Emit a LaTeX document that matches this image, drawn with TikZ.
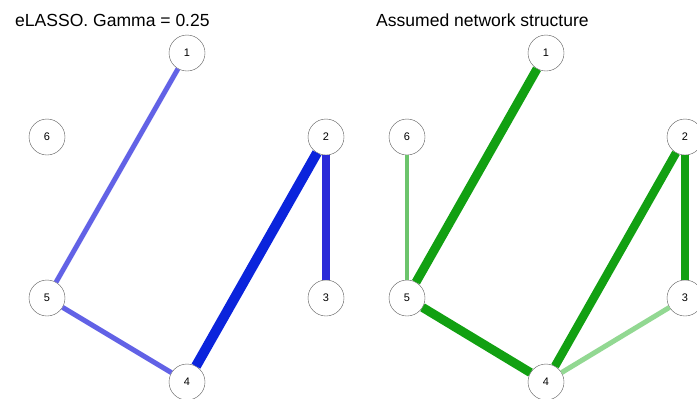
\documentclass[tikz,border=0pt]{standalone}
\usepackage{fontspec}
\setmainfont{Liberation Sans}
\usetikzlibrary{positioning}

\definecolor{blueLight}{HTML}{6262E6}
\definecolor{blueDark}{HTML}{0B24DC}
\definecolor{blueMid}{HTML}{2A2AD8}
\definecolor{greenDark}{HTML}{12A012}
\definecolor{greenMid}{HTML}{6CC46C}
\definecolor{greenLight}{HTML}{92D892}

\begin{document}
\begin{tikzpicture}[
  x=1bp, y=-1bp,
  vert/.style={circle, draw=black!65, fill=white, minimum size=36bp,
               inner sep=0pt, font=\fontsize{11}{13}\selectfont},
  ttl/.style={anchor=base west, inner sep=0pt, font=\fontsize{17.6}{21}\selectfont},
  edge/.style={line cap=butt},
]
\useasboundingbox (0,0) rectangle (697,398);

%% ---------- left panel: eLASSO estimate ----------
\node[ttl] (ttlL) at (15,26.5) {eLASSO. Gamma = 0.25};

\node[vert] (a1) at (187,53)  {1};
\node[vert] (a2) at (326,137) {2};
\node[vert] (a3) at (326,298) {3};
\node[vert] (a4) at (187,382) {4};
\node[vert] (a5) at (47,298)  {5};
\node[vert] (a6) at (47,137)  {6};

\draw[edge, blueLight, line width=5bp] (a1) -- (a5);
\draw[edge, blueLight, line width=5bp] (a5) -- (a4);
\draw[edge, blueDark, line width=10bp] (a4) -- (a2);
\draw[edge, blueMid, line width=7.5bp] (a2) -- (a3);

%% ---------- right panel: assumed structure ----------
\node[ttl] (ttlR) at (376,26.5) {Assumed network structure};

\node[vert] (b1) at (546,53)  {1};
\node[vert] (b2) at (685,137) {2};
\node[vert] (b3) at (685,298) {3};
\node[vert] (b4) at (546,382) {4};
\node[vert] (b5) at (407,298) {5};
\node[vert] (b6) at (407,137) {6};

\draw[edge, greenDark, line width=9bp] (b1) -- (b5);
\draw[edge, greenMid, line width=4.5bp] (b6) -- (b5);
\draw[edge, greenDark, line width=9bp] (b5) -- (b4);
\draw[edge, greenDark, line width=8.5bp] (b4) -- (b2);
\draw[edge, greenDark, line width=8.5bp] (b2) -- (b3);
\draw[edge, greenLight, line width=5bp] (b4) -- (b3);

\end{tikzpicture}
\end{document}
